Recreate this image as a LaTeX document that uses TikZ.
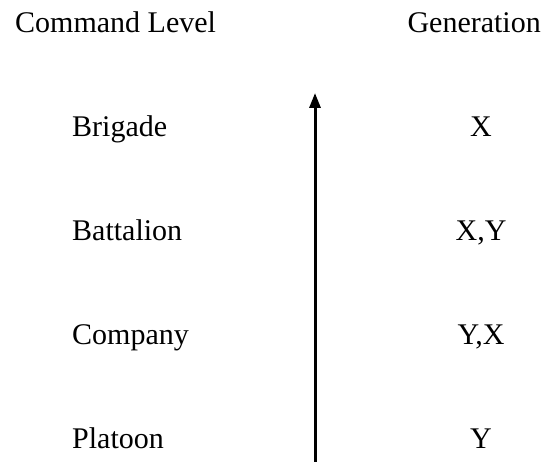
\documentclass[tikz,border=0pt]{standalone}
\usepackage{fontspec}
\setmainfont{Liberation Serif}
\usetikzlibrary{arrows.meta}
\begin{document}
\begin{tikzpicture}[x=1pt,y=1pt,
  lbl/.style={inner sep=0pt,font=\fontsize{30}{36}\selectfont},
  leftlbl/.style={lbl,anchor=base west},
  rightlbl/.style={lbl,anchor=base},
  axisarrow/.style={line width=3pt,-{Triangle[length=15pt,width=11pt]}}]
\useasboundingbox (0,0) rectangle (548,462);
\node[leftlbl] (hcmd) at (15,429) {Command Level};
\node[lbl,anchor=base east] (hgen) at (541,429) {Generation};
\node[leftlbl] (brig) at (72,325) {Brigade};
\node[leftlbl] (batt) at (72,221) {Battalion};
\node[leftlbl] (comp) at (72,117) {Company};
\node[leftlbl] (plat) at (72,13) {Platoon};
\node[rightlbl] (gbrig) at (481,325) {X};
\node[rightlbl] (gbatt) at (481,221) {X,Y};
\node[rightlbl] (gcomp) at (481,117) {Y,X};
\node[rightlbl] (gplat) at (481,13) {Y};
\coordinate (abot) at (315,0);
\coordinate (atop) at (315,369);
\draw[axisarrow] (abot) -- (atop);
\end{tikzpicture}
\end{document}
